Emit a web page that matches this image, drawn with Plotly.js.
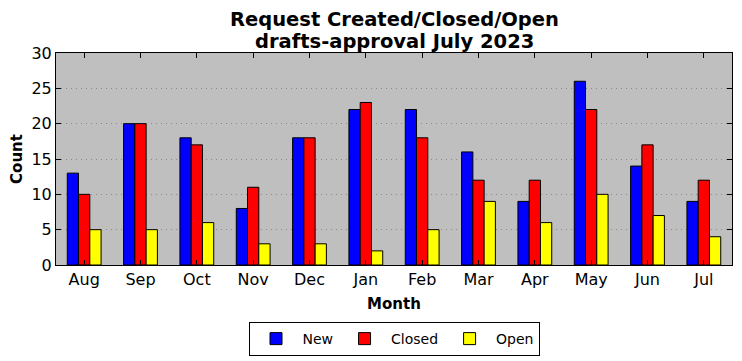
<!DOCTYPE html>
<html>
<head>
<meta charset="utf-8">
<script src="https://cdn.plot.ly/plotly-3.0.1.min.js"></script>
<style>html,body{margin:0;padding:0;background:#fff;}#chart{width:742px;height:361px;}</style>
</head>
<body>
<div id="chart"></div>
<script>
const months = ["Aug","Sep","Oct","Nov","Dec","Jan","Feb","Mar","Apr","May","Jun","Jul"];
const newCounts = [13,20,18,8,18,22,22,16,9,26,14,9];
const closedCounts = [10,20,17,11,18,23,18,12,12,22,17,12];
const openCounts = [5,5,6,3,3,2,5,9,6,10,7,4];
const yTicks = [0,5,10,15,20,25,30];
const titleLines = ["Request Created/Closed/Open", "drafts-approval July 2023"];

const font = "DejaVu Sans, sans-serif";
function bar(name, vals, color){
  return {type:'bar', name:name, x:months, y:vals,
    marker:{color:color, line:{color:'#000', width:1}}};
}
const data = [bar('New', newCounts, '#0000ff'), bar('Closed', closedCounts, '#ff0000'), bar('Open', openCounts, '#ffff00')];
const titleShift = [34, 12];
const layout = {
  width:742, height:361,
  margin:{l:56, r:10, t:53, b:96},
  paper_bgcolor:'#fff', plot_bgcolor:'#bfbfbf',
  barmode:'group', bargap:0.4, bargroupgap:0,
  font:{family:font, color:'#000'},
  annotations:titleLines.map((t,i)=>({text:'<b>'+t+'</b>',
    font:{size:19.5, family:font, color:'#000'}, showarrow:false,
    x:0.5, xref:'paper', xanchor:'center', y:1, yref:'paper', yanchor:'middle', yshift:titleShift[i]})),
  xaxis:{title:{text:'<b>Month</b>', font:{size:15}, standoff:10},
    tickfont:{size:16}, ticks:'inside', ticklen:5, tickcolor:'#000',
    showline:true, linecolor:'#000', linewidth:1, mirror:'ticks', showgrid:false,
    range:[-0.5, 11.5], automargin:false},
  yaxis:{title:{text:'<b>Count</b>', font:{size:15}, standoff:5},
    tickfont:{size:16}, ticks:'inside', ticklen:5, tickcolor:'#000',
    tickvals:yTicks, range:[0,30],
    showline:true, linecolor:'#000', linewidth:1, mirror:'ticks',
    showgrid:true, gridcolor:'#8a8a8a', griddash:'1px,4px', gridwidth:1, zeroline:false, automargin:false},
  showlegend:true,
  legend:{orientation:'h', x:0.5, xanchor:'center', xref:'paper', y:0.108, yref:'container', yanchor:'top',
    bordercolor:'#000', borderwidth:1, bgcolor:'#fff', font:{size:14}, traceorder:'normal',
    itemwidth:43, tracegroupgap:0}
};
Plotly.newPlot('chart', data, layout, {displayModeBar:false, staticPlot:true});
</script>
</body>
</html>
